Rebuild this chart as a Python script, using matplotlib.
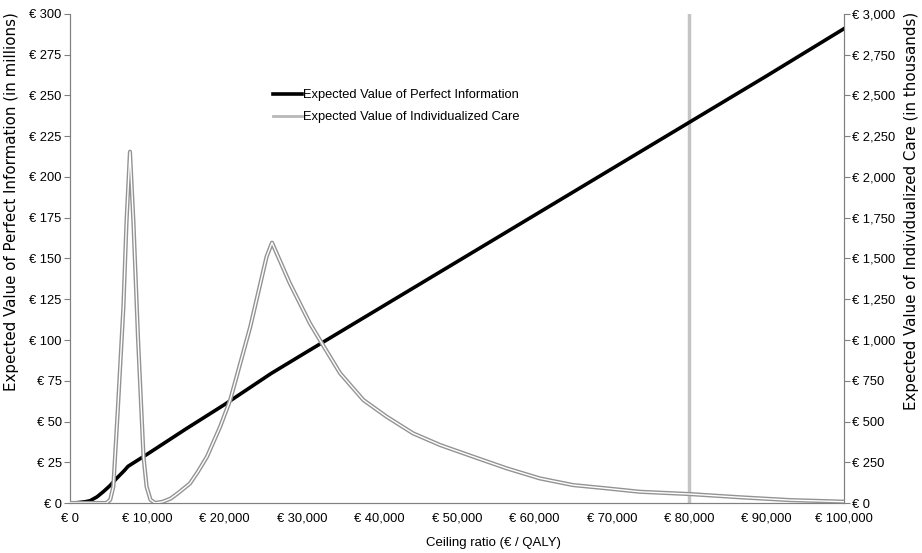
import matplotlib.pyplot as plt
import matplotlib.patheffects as pe
from matplotlib.lines import Line2D
from matplotlib.ticker import FuncFormatter

plt.rcParams['font.family'] = ['Liberation Sans', 'DejaVu Sans']
plt.rcParams['font.size'] = 9

# EVPI (in millions)
evpi_x = [0, 1000, 2000, 2600, 3500, 4300, 5200, 6000, 7000, 7500, 10000, 15000,
          20000, 26000, 30000, 40000, 50000, 60000, 70000, 80000, 90000, 100000]
evpi_y = [0, 0.2, 0.8, 1.4, 3.8, 6.9, 10.8, 15, 19.8, 22.5, 30, 45.5,
          60.5, 79.5, 91, 119.5, 148, 176.5, 205, 233.5, 262, 291]

# EVIC (in thousands)
evic_x = [0, 4700, 5200, 5600, 6200, 6900, 7300, 7750, 8200, 8800, 9500, 9900,
          10400, 11000, 12000, 13000, 14000, 15500, 16500, 17700, 19400, 20700,
          22000, 23300, 24500, 25400, 26100, 28400, 29700, 31000, 32500, 34900,
          37900, 40900, 44300, 47800, 52100, 56400, 60700, 65000, 69300, 73600,
          80000, 86600, 93000, 100000]
evic_y = [0, 0, 20, 100, 590, 1200, 1720, 2155, 1720, 1000, 284, 100,
          20, 0, 8, 27, 62, 120, 190, 284, 468, 632,
          857, 1082, 1327, 1511, 1597, 1348, 1225, 1102, 983, 796,
          632, 530, 428, 356, 284, 213, 151, 110, 90, 69,
          55, 35, 18, 8]

threshold = 80000

fig = plt.figure(figsize=(9.22, 5.53), dpi=100)
ax1 = fig.add_axes([0.0759, 0.0904, 0.8395, 0.8843])
ax2 = ax1.twinx()

ax1.axvline(threshold, color='#c4c4c4', lw=2.5, zorder=1)
ax1.plot(evpi_x, evpi_y, color='black', lw=2.6, zorder=3)
ax2.plot(evic_x, evic_y, color='white', lw=1.0, zorder=3,
         path_effects=[pe.Stroke(linewidth=3.0, foreground='#939393'), pe.Normal()])

ax1.set_xlim(0, 100000)
ax1.set_ylim(0, 300)
ax2.set_ylim(0, 3000)
ax1.set_xticks(range(0, 100001, 10000))
ax1.set_yticks(range(0, 301, 25))
ax2.set_yticks(range(0, 3001, 250))

euro = FuncFormatter(lambda v, p: '€ {:,}'.format(int(v)))
ax1.xaxis.set_major_formatter(euro)
ax1.yaxis.set_major_formatter(euro)
ax2.yaxis.set_major_formatter(euro)

for ax in (ax1, ax2):
    ax.spines['top'].set_visible(False)
    for s in ('left', 'right', 'bottom'):
        ax.spines[s].set_color('#808080')
    ax.tick_params(axis='y', color='#808080', length=4, labelsize=9.3, pad=2)
ax1.tick_params(axis='x', length=0, labelsize=9.3, pad=7)

# axis titles (the y titles are stretched along their length in the original)
fig.text(493 / 922, 1 - 543 / 553, 'Ceiling ratio (€ / QALY)', fontsize=9.5,
         ha='center', va='center')
fig.text(12 / 922, 1 - 12 / 553, 'Expected Value of Perfect Information (in millions)',
         family='DejaVu Sans', fontsize=10.8, rotation=90, ha='center', va='top')
fig.text(911 / 922, 1 - 12 / 553, 'Expected Value of Individualized Care (in thousands)',
         family='DejaVu Sans', fontsize=10.8, rotation=90, ha='center', va='top')

handles = [Line2D([], [], color='black', lw=2.6),
           Line2D([], [], color='#b8b8b8', lw=2.0)]
labels = ['Expected Value of Perfect Information',
          'Expected Value of Individualized Care']
ax2.legend(handles, labels, loc='upper left', bbox_to_anchor=(267 / 922, 1 - 83 / 553),
           bbox_transform=fig.transFigure, frameon=False, fontsize=9.3,
           handlelength=2.2, handletextpad=0.1, labelspacing=0.75, borderpad=0)

fig.savefig('out.png', dpi=100)
